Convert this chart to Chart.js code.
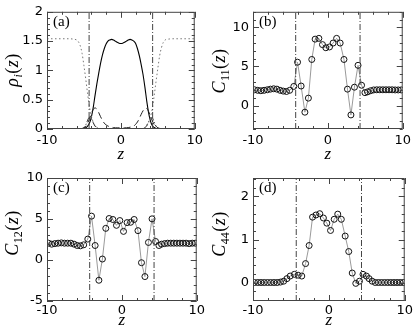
<!DOCTYPE html>
<html>
<head>
<meta charset="utf-8">
<script src="https://cdn.jsdelivr.net/npm/chart.js@4/dist/chart.umd.min.js"></script>
<style>
  html, body { margin: 0; padding: 0; background: #fff; }
  #wrap { position: relative; width: 415px; height: 331px; }
  canvas { position: absolute; }
</style>
</head>
<body>
<div id="wrap">
  <canvas id="pa" width="207" height="165" style="left:0;top:0"></canvas>
  <canvas id="pb" width="208" height="165" style="left:207px;top:0"></canvas>
  <canvas id="pc" width="207" height="166" style="left:0;top:165px"></canvas>
  <canvas id="pd" width="208" height="166" style="left:207px;top:165px"></canvas>
</div>
<script>
// density profiles, panel (a)
const zRho = [-10, -7, -6.5, -6, -5.75, -5.5, -5.25, -5, -4.75, -4.5, -4.25, -4, -3.75, -3.5, -3.25, -3, -2.75, -2.5, -2.25, -2, -1.75, -1.5, -1.25, -1, -0.75, -0.5, -0.25,
  0, 0.25, 0.5, 0.75, 1, 1.25, 1.5, 1.75, 2, 2.25, 2.5, 2.75, 3, 3.25, 3.5, 3.75, 4, 4.25, 4.5, 4.75, 5, 5.25, 5.5, 5.75, 6, 6.5, 7, 10];
const rhoSolid = [0, 0, 0, 0, 0, 0, 0.005, 0.01, 0.02, 0.05, 0.1, 0.2, 0.36, 0.57, 0.77, 0.95, 1.12, 1.26, 1.37, 1.45, 1.5, 1.52, 1.53, 1.52, 1.5, 1.48, 1.465,
  1.46, 1.465, 1.48, 1.5, 1.52, 1.53, 1.52, 1.5, 1.46, 1.37, 1.25, 1.1, 0.93, 0.72, 0.48, 0.28, 0.14, 0.06, 0.025, 0.01, 0, 0, 0, 0, 0, 0, 0, 0];
const rhoDotted = [1.54, 1.54, 1.535, 1.52, 1.49, 1.42, 1.29, 1.08, 0.85, 0.6, 0.38, 0.22, 0.12, 0.06, 0.03, 0.01, 0, 0, 0, 0, 0, 0, 0, 0, 0, 0, 0,
  0, 0, 0, 0, 0, 0, 0, 0, 0, 0, 0, 0, 0.01, 0.02, 0.05, 0.1, 0.2, 0.34, 0.56, 0.8, 1.03, 1.25, 1.39, 1.48, 1.52, 1.535, 1.54, 1.54];
const rhoDashed = [0, 0, 0, 0, 0, 0.005, 0.01, 0.02, 0.05, 0.1, 0.17, 0.26, 0.33, 0.36, 0.34, 0.28, 0.21, 0.15, 0.1, 0.07, 0.05, 0.04, 0.03, 0.025, 0.02, 0.02, 0.02,
  0.02, 0.02, 0.02, 0.02, 0.025, 0.03, 0.04, 0.05, 0.08, 0.12, 0.18, 0.25, 0.31, 0.35, 0.35, 0.3, 0.22, 0.14, 0.08, 0.04, 0.02, 0.01, 0.005, 0, 0, 0, 0, 0];
const rhoDashDot = [0, 0, 0, 0, 0, 0, 0, 0.02, 0.07, 0.15, 0.2, 0.18, 0.11, 0.05, 0.02, 0.005, 0, 0, 0, 0, 0, 0, 0, 0, 0, 0, 0,
  0, 0, 0, 0, 0, 0, 0, 0, 0, 0, 0, 0, 0.005, 0.02, 0.06, 0.13, 0.19, 0.19, 0.12, 0.05, 0.02, 0, 0, 0, 0, 0, 0, 0];

// elastic constants, panels (b)-(d)
const zC = [-9.8, -9.37, -8.95, -8.52, -8.09, -7.67, -7.24, -6.81, -6.38, -5.96, -5.53, -5.1,
  -4.55, -4.05, -3.57, -3.07, -2.6, -2.15, -1.7, -1.2, -0.72, -0.27, 0.22, 0.7, 1.17, 1.64, 2.15, 2.62, 3.08, 3.55, 4.03, 4.5, 4.95, 5.3,
  5.71, 6.12, 6.53, 6.94, 7.35, 7.76, 8.17, 8.58, 8.99, 9.4, 9.8];
const c11 = [2.02, 1.95, 1.9, 1.95, 2.02, 2.1, 2.15, 2.1, 1.95, 1.85, 1.8, 1.95,
  2.45, 5.55, 2.5, -0.85, 0.95, 5.9, 8.5, 8.6, 7.8, 7.4, 7.5, 8.0, 8.6, 8.0, 5.9, 2.1, -1.2, 2.35, 5.15, 2.6, 1.65, 1.75,
  1.9, 2.0, 2.02, 2.02, 2.02, 2.02, 2.02, 2.02, 2.0, 2.0, 2.0];
const c12 = [2.05, 1.93, 2.0, 2.05, 2.09, 2.05, 2.05, 2.05, 1.93, 1.77, 1.73, 1.85,
  2.55, 5.35, 1.77, -2.47, 0.12, 3.86, 5.06, 4.94, 4.23, 4.81, 3.49, 4.56, 4.6, 4.94, 3.58, -0.33, -2.02, 2.14, 5.02, 2.26, 1.77, 1.93,
  2.0, 2.05, 2.05, 2.05, 2.05, 2.05, 2.05, 2.05, 2.0, 2.05, 2.05];
const c44 = [0, 0, 0, 0, 0, 0, 0, 0, 0.01, 0.03, 0.09, 0.15,
  0.19, 0.17, 0.15, 0.44, 0.86, 1.52, 1.57, 1.6, 1.5, 1.38, 1.21, 1.47, 1.59, 1.47, 1.08, 0.72, 0.22, -0.02, 0.03, 0.19, 0.15, 0.09,
  0.03, 0, 0, 0, 0, 0, 0, 0, 0, 0, 0];

// interface positions (dash-dot verticals)
const interfaceZ = [-4.3, 4.3];

const SERIF = '"Liberation Serif", "DejaVu Serif", serif';

// frame, inward ticks on all sides, axis titles and panel tag
const framePlugin = {
  id: 'frame',
  afterDatasetsDraw(chart, args, o) {
    const { ctx, chartArea: a, scales: { x, y } } = chart;
    ctx.save();
    ctx.strokeStyle = '#444';
    ctx.lineWidth = 1;
    ctx.strokeRect(a.left + 0.5, a.top + 0.5, a.right - a.left - 1, a.bottom - a.top - 1);

    const marks = (scale, step, major, horiz) => {
      const n0 = Math.ceil(scale.min / step - 1e-9);
      const n1 = Math.floor(scale.max / step + 1e-9);
      for (let n = n0; n <= n1; n++) {
        const v = n * step;
        const isMajor = Math.abs(v / major - Math.round(v / major)) < 1e-6;
        const len = isMajor ? 6 : 3;
        const p = Math.round(scale.getPixelForValue(v)) + 0.5;
        ctx.beginPath();
        if (horiz) {
          ctx.moveTo(p, a.bottom); ctx.lineTo(p, a.bottom - len);
          ctx.moveTo(p, a.top); ctx.lineTo(p, a.top + len);
        } else {
          ctx.moveTo(a.left, p); ctx.lineTo(a.left + len, p);
          ctx.moveTo(a.right, p); ctx.lineTo(a.right - len, p);
        }
        ctx.stroke();
      }
    };
    marks(x, 2, 10, true);
    marks(y, o.yStep, o.yMajor, false);

    ctx.fillStyle = '#000';
    // panel tag
    ctx.font = '15px ' + SERIF;
    ctx.textBaseline = 'middle';
    ctx.textAlign = 'left';
    ctx.fillText(o.tag, a.left + 6, a.top + 10);

    // x title
    ctx.font = 'italic 17px ' + SERIF;
    ctx.textAlign = 'center';
    ctx.textBaseline = 'alphabetic';
    ctx.fillText('z', (a.left + a.right) / 2, a.bottom + o.zOff);

    // y title, rotated, pieces with a subscript
    ctx.translate(o.titleX, o.titleY);
    ctx.rotate(-Math.PI / 2);
    ctx.textAlign = 'left';
    const parts = [
      { t: o.sym, f: 'italic 18px ' + SERIF, dy: 0 },
      { t: o.sub, f: (o.subItalic ? 'italic ' : '') + '12px ' + SERIF, dy: 4 },
      { t: '(', f: '18px ' + SERIF, dy: 0 },
      { t: 'z', f: 'italic 18px ' + SERIF, dy: 0 },
      { t: ')', f: '18px ' + SERIF, dy: 0 }
    ];
    let w = 0;
    for (const p of parts) { ctx.font = p.f; w += ctx.measureText(p.t).width + 0.5; }
    let cx = -w / 2;
    for (const p of parts) {
      ctx.font = p.f;
      ctx.fillText(p.t, cx, 6 + p.dy);
      cx += ctx.measureText(p.t).width + 0.5;
    }
    ctx.restore();
  }
};

function vLines(yMin, yMax) {
  return interfaceZ.map(z => ({
    data: [{ x: z, y: yMin }, { x: z, y: yMax }],
    showLine: true,
    borderColor: '#444',
    borderWidth: 1,
    borderDash: [6, 2, 1, 2],
    pointRadius: 0
  }));
}

function circles(values) {
  return {
    data: zC.map((z, i) => ({ x: z, y: values[i] })),
    showLine: true,
    borderColor: '#9a9a9a',
    borderWidth: 1,
    pointRadius: 3,
    pointBorderColor: '#111',
    pointBorderWidth: 1,
    pointBackgroundColor: 'rgba(255,255,255,0)'
  };
}

function curve(values, color, dash, width) {
  return {
    data: zRho.map((z, i) => ({ x: z, y: values[i] })),
    showLine: true,
    borderColor: color,
    borderWidth: width,
    borderDash: dash,
    pointRadius: 0,
    cubicInterpolationMode: 'monotone'
  };
}

function makePanel(id, p) {
  new Chart(document.getElementById(id), {
    type: 'scatter',
    data: { datasets: p.datasets },
    options: {
      responsive: false,
      animation: false,
      devicePixelRatio: 1,
      events: [],
      layout: { autoPadding: false, padding: { top: p.top, right: p.right, left: 0, bottom: 0 } },
      plugins: {
        legend: { display: false },
        tooltip: { enabled: false },
        frame: { tag: p.tag, sym: p.sym, sub: p.sub, subItalic: p.subItalic, yStep: p.yStep, yMajor: p.yMajor, titleX: 12, titleY: p.titleY, zOff: p.zOff }
      },
      scales: {
        x: {
          type: 'linear', min: -10, max: 10,
          grid: { display: false, drawTicks: false },
          border: { display: false },
          afterFit: s => { s.height = p.xHeight; },
          ticks: {
            stepSize: 2, autoSkip: false, maxRotation: 0, padding: p.xPad, color: '#000',
            font: { family: '"DejaVu Sans", sans-serif', size: 13 },
            callback: v => (Math.abs(v / 10 - Math.round(v / 10)) < 1e-6 ? String(Math.round(v)) : '')
          }
        },
        y: {
          type: 'linear', min: p.yMin, max: p.yMax,
          grid: { display: false, drawTicks: false },
          border: { display: false },
          afterFit: s => { s.width = p.yWidth; },
          ticks: {
            stepSize: p.yStep, autoSkip: false, padding: 4, color: '#000',
            font: { family: '"DejaVu Sans", sans-serif', size: 13 },
            callback: v => (Math.abs(v / p.yMajor - Math.round(v / p.yMajor)) < 1e-6 ? String(Math.round(v * 10) / 10) : '')
          }
        }
      }
    },
    plugins: [framePlugin]
  });
}

makePanel('pa', {
  tag: '(a)', sym: 'ρ', sub: 'i', subItalic: true, titleY: 70,
  top: 7, right: 6, yWidth: 47, xHeight: 36, xPad: 4, zOff: 30,
  yMin: 0, yMax: 2, yStep: 0.1, yMajor: 0.5,
  datasets: [
    ...vLines(0, 2),
    curve(rhoDotted, '#777', [1.5, 2.5], 1),
    curve(rhoDashDot, '#222', [6, 2, 1, 2], 1),
    curve(rhoDashed, '#222', [7, 4], 1),
    curve(rhoSolid, '#000', [], 1.1)
  ]
});

makePanel('pb', {
  tag: '(b)', sym: 'C', sub: '11', subItalic: false, titleY: 71,
  top: 7, right: 8, yWidth: 46, xHeight: 36, xPad: 4, zOff: 30,
  yMin: -3, yMax: 12, yStep: 1, yMajor: 5,
  datasets: [...vLines(-3, 12), circles(c11)]
});

makePanel('pc', {
  tag: '(c)', sym: 'C', sub: '12', subItalic: false, titleY: 68,
  top: 13, right: 6, yWidth: 47, xHeight: 30, xPad: 2, zOff: 24,
  yMin: -5, yMax: 10, yStep: 1, yMajor: 5,
  datasets: [...vLines(-5, 10), circles(c12)]
});

makePanel('pd', {
  tag: '(d)', sym: 'C', sub: '44', subItalic: false, titleY: 69,
  top: 13, right: 8, yWidth: 46, xHeight: 30, xPad: 2, zOff: 24,
  yMin: -0.43, yMax: 2.43, yStep: 0.2, yMajor: 1,
  datasets: [...vLines(-0.43, 2.43), circles(c44)]
});
</script>
</body>
</html>
